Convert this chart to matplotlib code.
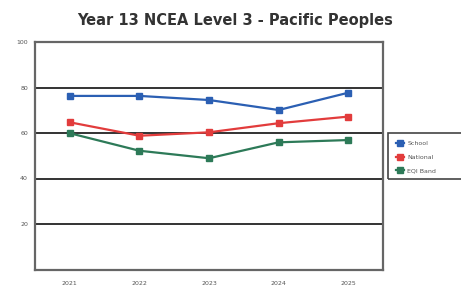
import matplotlib
matplotlib.use("Agg")
import matplotlib.pyplot as plt
from matplotlib.patches import Rectangle

years = ["2021", "2022", "2023", "2024", "2025"]
school = [76.3, 76.3, 74.5, 70.1, 77.7]
national = [64.7, 58.8, 60.3, 64.3, 67.2]
eqi_band = [59.9, 52.2, 48.9, 55.9, 56.9]
yticks = [20, 40, 60, 80, 100]

W, H = 461, 286
fig = plt.figure(figsize=(W / 100, H / 100), dpi=100)
ax = fig.add_axes([35 / W, 1 - 269.5 / H, 348 / W, 227.5 / H])

x = list(range(len(years)))
series = [("School", school, "#2b5fb3"),
          ("National", national, "#e23c3c"),
          ("EQI Band", eqi_band, "#2d7a58")]
for name, vals, col in series:
    ax.plot(x, vals, color=col, lw=1.6, marker="s", ms=5, label=name, zorder=3)

ax.set_xlim(-0.5, len(years) - 0.5)
ax.set_ylim(0, 100)
ax.set_xticks(x)
ax.set_xticklabels(years)
ax.set_yticks(yticks)
for v in yticks[:-1]:
    ax.axhline(v, color="#333333", lw=1.4, zorder=1)
ax.tick_params(axis="both", length=0, labelsize=4.5, labelcolor="#555555")
ax.tick_params(axis="x", pad=8)
ax.tick_params(axis="y", pad=5)
for s in ax.spines.values():
    s.set_color("#666666")
    s.set_linewidth(1.6)

fig.suptitle("Year 13 NCEA Level 3 - Pacific Peoples", x=235 / W, y=1 - 20 / H,
             va="center", fontsize=10.5, fontweight="bold", color="#333333")

# legend frame (extends past the right edge as in the reference)
fig.patches.append(Rectangle((388 / W, 1 - 179 / H), 90 / W, 46 / H,
                             transform=fig.transFigure, fill=False,
                             edgecolor="#444444", lw=1.2))
leg = fig.legend(loc="upper left", bbox_to_anchor=(391 / W, 1 - 136 / H),
                 fontsize=4.5, frameon=False, handlelength=1.3,
                 handletextpad=0.5, labelspacing=1.3, borderpad=0.3,
                 labelcolor="#555555")

fig.savefig("out.png", dpi=100)
